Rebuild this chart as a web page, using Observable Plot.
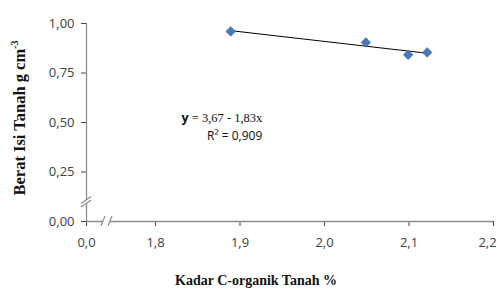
<!DOCTYPE html>
<html>
<head>
<meta charset="utf-8">
<script src="https://cdn.jsdelivr.net/npm/d3@7"></script>
<script src="https://cdn.jsdelivr.net/npm/@observablehq/plot@0.6"></script>
<style>
  html, body { margin: 0; padding: 0; background: #fff; }
  #chart svg { display: block; }
</style>
</head>
<body>
<div id="chart"></div>
<script>
// ---- data ----
const cOrganik = [1.889, 2.049, 2.099, 2.1215];
const beratIsi = [0.960, 0.904, 0.842, 0.854];
const xTicks = [0.0, 1.8, 1.9, 2.0, 2.1, 2.2];
const yTicks = [0.00, 0.25, 0.50, 0.75, 1.00];
const xTitle = "Kadar C-organik Tanah %";
const yTitleMain = "Berat Isi Tanah g cm";
const yTitleSup = "-3";
const eqBold = "y";
const eqRest = " = 3,67 - 1,83x";
const eqR2 = "R\u00B2 = 0,909";

const data = cOrganik.map((x, i) => ({x, y: beratIsi[i]}));

const W = 499, H = 289;
const mL = 86, mR = 6, mT = 23, mB = 68;
const axisGray = "#8c8c8c";
// broken x axis: the "0,0" tick sits just left of 1,8 on the drawn scale
const xZeroAt = 1.8 - 69 / 845;
const xDomain = [xZeroAt, 2.2];
const xTickPos = xTicks.map(v => v === 0 ? xZeroAt : v);
const yBreak = [0.106, 0.088]; // y-axis break (scale units)

const fmt1 = d3.format(".1f"), fmt2 = d3.format(".2f");
const xLabel = v => (v === xZeroAt ? fmt1(0) : fmt1(v)).replace(".", ",");

function breaks(index, {x, y}) {
  const g = d3.create("svg:g");
  // x-axis break
  const y0 = y(0), bx = x(xZeroAt);
  const xb = [bx + 17, bx + 24];
  g.append("rect").attr("x", xb[0]).attr("y", y0 - 3)
    .attr("width", xb[1] - xb[0]).attr("height", 6).attr("fill", "#fff");
  for (const b of xb) {
    g.append("line").attr("x1", b - 2).attr("y1", y0 + 5)
      .attr("x2", b + 2).attr("y2", y0 - 5)
      .attr("stroke", axisGray).attr("stroke-width", 1.2);
  }
  // y-axis break
  g.append("rect").attr("x", bx - 3).attr("y", y(yBreak[0]))
    .attr("width", 6).attr("height", y(yBreak[1]) - y(yBreak[0])).attr("fill", "#fff");
  for (const b of yBreak) {
    g.append("line").attr("x1", bx - 5).attr("y1", y(b) + 3.5)
      .attr("x2", bx + 5).attr("y2", y(b) - 3.5)
      .attr("stroke", axisGray).attr("stroke-width", 1.2);
  }
  return g.node();
}

function titles(index, {x, y}) {
  const g = d3.create("svg:g");
  // x title
  g.append("text").attr("x", 256).attr("y", H - 4)
    .attr("text-anchor", "middle")
    .attr("font-family", "'Liberation Serif', serif").attr("font-weight", "bold")
    .attr("font-size", 14).attr("fill", "#111").text(xTitle);
  // y title
  const t = g.append("text")
    .attr("transform", `translate(25,${(y(0) + y(1)) / 2 - 4}) rotate(-90)`)
    .attr("text-anchor", "middle")
    .attr("font-family", "'Liberation Serif', serif").attr("font-weight", "bold")
    .attr("font-size", 16.5).attr("fill", "#111");
  t.append("tspan").text(yTitleMain);
  t.append("tspan").attr("dy", -7).attr("font-size", 10).text(yTitleSup);
  // equation
  const ex = x(1.927);
  const e1 = g.append("text").attr("x", ex).attr("y", y(0.50))
    .attr("text-anchor", "end").attr("fill", "#111").attr("font-size", 12.5);
  e1.append("tspan").attr("font-family", "'Open Sans', sans-serif").attr("font-weight", "bold").text(eqBold);
  e1.append("tspan").attr("font-family", "'Liberation Serif', serif").text(eqRest);
  g.append("text").attr("x", ex).attr("y", y(0.41))
    .attr("text-anchor", "end").attr("fill", "#111")
    .attr("font-family", "'Open Sans', sans-serif").attr("font-size", 12)
    .text(eqR2);
  return g.node();
}

const chart = Plot.plot({
  width: W,
  height: H,
  marginLeft: mL,
  marginRight: mR,
  marginTop: mT,
  marginBottom: mB,
  style: {fontFamily: "'Open Sans', sans-serif", fontSize: "13px", color: "#404040", background: "#fff"},
  x: {
    domain: xDomain,
    ticks: xTickPos,
    tickFormat: xLabel,
    tickSize: 5,
    tickPadding: 11,
    label: null
  },
  y: {
    domain: [0, 1],
    ticks: yTicks,
    tickFormat: v => fmt2(v).replace(".", ","),
    tickSize: 5,
    tickPadding: 7,
    label: null
  },
  marks: [
    Plot.ruleX([xZeroAt], {y1: 0, y2: 1, stroke: axisGray, strokeWidth: 1.3}),
    Plot.ruleY([0], {x1: xZeroAt, x2: 2.2, stroke: axisGray, strokeWidth: 1.3}),
    breaks,
    Plot.linearRegressionY(data, {x: "x", y: "y", ci: 0, stroke: "#000", strokeWidth: 1}),
    Plot.dot(data, {x: "x", y: "y", symbol: "diamond2", r: 4.4, fill: "#4a7ab5", stroke: "#3d6aa3", strokeWidth: 0.5}),
    titles
  ]
});

// keep the last x tick label inside the frame, as in the reference
d3.select(chart).selectAll("text").filter(function() {
  return this.textContent === xLabel(2.2);
}).attr("dx", -6);

document.getElementById("chart").appendChild(chart);
</script>
</body>
</html>
